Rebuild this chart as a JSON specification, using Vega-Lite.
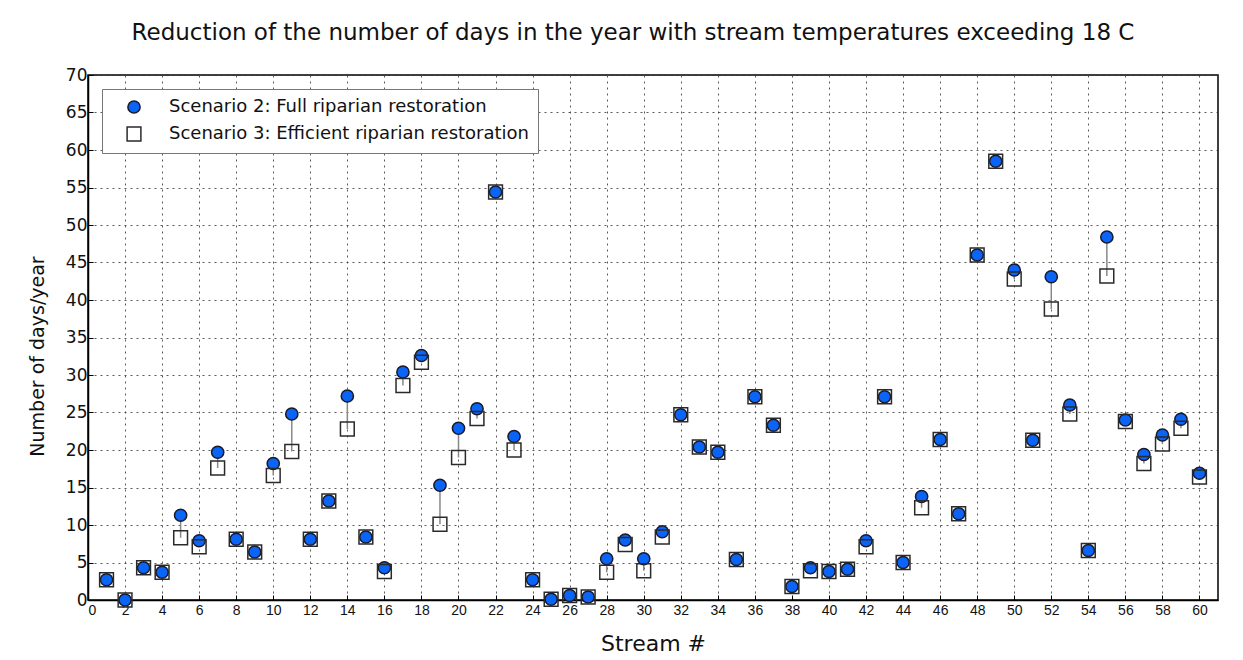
{
  "$schema": "https://vega.github.io/schema/vega-lite/v6.json",
  "width": 1130,
  "height": 525,
  "autosize": {"type": "none"},
  "padding": {"left": 88, "top": 75, "right": 25, "bottom": 60},
  "background": "white",
  "title": {
    "text": "Reduction of the number of days in the year with stream temperatures exceeding 18 C",
    "fontSize": 23,
    "font": "DejaVu Sans",
    "fontWeight": "normal",
    "color": "#111",
    "anchor": "middle",
    "dx": -20,
    "offset": 21
  },
  "config": {
    "font": "DejaVu Sans",
    "view": {"stroke": "black", "strokeWidth": 1.5},
    "axis": {
      "domainColor": "black",
      "domainWidth": 1.5,
      "tickColor": "black",
      "tickSize": -5,
      "gridColor": "#333",
      "gridDash": [2, 4],
      "gridOpacity": 0.8,
      "gridWidth": 1,
      "labelColor": "#111",
      "titleColor": "#111",
      "titleFontWeight": "normal",
      "labelOverlap": false
    }
  },
  "data": {
    "values": [
      {"stream": 1, "s2": 2.7, "s3": 2.7},
      {"stream": 2, "s2": 0.0, "s3": 0.0},
      {"stream": 3, "s2": 4.3, "s3": 4.3},
      {"stream": 4, "s2": 3.7, "s3": 3.7},
      {"stream": 5, "s2": 11.3, "s3": 8.3},
      {"stream": 6, "s2": 7.9, "s3": 7.1},
      {"stream": 7, "s2": 19.7, "s3": 17.6},
      {"stream": 8, "s2": 8.1, "s3": 8.1},
      {"stream": 9, "s2": 6.4, "s3": 6.4},
      {"stream": 10, "s2": 18.2, "s3": 16.6},
      {"stream": 11, "s2": 24.8, "s3": 19.8},
      {"stream": 12, "s2": 8.1, "s3": 8.1},
      {"stream": 13, "s2": 13.2, "s3": 13.2},
      {"stream": 14, "s2": 27.2, "s3": 22.8},
      {"stream": 15, "s2": 8.4, "s3": 8.4},
      {"stream": 16, "s2": 4.3, "s3": 3.8},
      {"stream": 17, "s2": 30.4, "s3": 28.6},
      {"stream": 18, "s2": 32.6, "s3": 31.7},
      {"stream": 19, "s2": 15.3, "s3": 10.1},
      {"stream": 20, "s2": 22.9, "s3": 19.0},
      {"stream": 21, "s2": 25.5, "s3": 24.2},
      {"stream": 22, "s2": 54.4, "s3": 54.4},
      {"stream": 23, "s2": 21.8, "s3": 20.0},
      {"stream": 24, "s2": 2.7, "s3": 2.7},
      {"stream": 25, "s2": 0.1, "s3": 0.1},
      {"stream": 26, "s2": 0.6, "s3": 0.6},
      {"stream": 27, "s2": 0.4, "s3": 0.4},
      {"stream": 28, "s2": 5.5, "s3": 3.7},
      {"stream": 29, "s2": 8.0, "s3": 7.4},
      {"stream": 30, "s2": 5.5, "s3": 3.9},
      {"stream": 31, "s2": 9.1, "s3": 8.4},
      {"stream": 32, "s2": 24.7, "s3": 24.7},
      {"stream": 33, "s2": 20.4, "s3": 20.4},
      {"stream": 34, "s2": 19.7, "s3": 19.7},
      {"stream": 35, "s2": 5.4, "s3": 5.4},
      {"stream": 36, "s2": 27.1, "s3": 27.1},
      {"stream": 37, "s2": 23.3, "s3": 23.3},
      {"stream": 38, "s2": 1.8, "s3": 1.8},
      {"stream": 39, "s2": 4.3, "s3": 3.9},
      {"stream": 40, "s2": 3.8, "s3": 3.8},
      {"stream": 41, "s2": 4.1, "s3": 4.1},
      {"stream": 42, "s2": 7.9, "s3": 7.1},
      {"stream": 43, "s2": 27.1, "s3": 27.1},
      {"stream": 44, "s2": 5.0, "s3": 5.0},
      {"stream": 45, "s2": 13.8, "s3": 12.3},
      {"stream": 46, "s2": 21.4, "s3": 21.4},
      {"stream": 47, "s2": 11.5, "s3": 11.5},
      {"stream": 48, "s2": 46.0, "s3": 46.0},
      {"stream": 49, "s2": 58.5, "s3": 58.5},
      {"stream": 50, "s2": 44.0, "s3": 42.8},
      {"stream": 51, "s2": 21.3, "s3": 21.3},
      {"stream": 52, "s2": 43.1, "s3": 38.8},
      {"stream": 53, "s2": 26.0, "s3": 24.8},
      {"stream": 54, "s2": 6.6, "s3": 6.6},
      {"stream": 55, "s2": 48.4, "s3": 43.2},
      {"stream": 56, "s2": 24.0, "s3": 23.8},
      {"stream": 57, "s2": 19.4, "s3": 18.2},
      {"stream": 58, "s2": 22.0, "s3": 20.8},
      {"stream": 59, "s2": 24.1, "s3": 22.9},
      {"stream": 60, "s2": 16.9, "s3": 16.4}
    ]
  },
  "layer": [
    {
      "mark": {"type": "rule", "color": "#888", "strokeWidth": 1.5},
      "encoding": {
        "x": {
          "field": "stream", "type": "quantitative",
          "scale": {"domain": [0, 61], "nice": false, "zero": false},
          "axis": {
            "title": "Stream #",
            "titleFontSize": 22,
            "titlePadding": 16,
            "labelFontSize": 14,
            "labelFont": "Liberation Sans",
            "labelPadding": 8,
            "labelOverlap": false,
            "tickCount": 31,
            "values": [0,2,4,6,8,10,12,14,16,18,20,22,24,26,28,30,32,34,36,38,40,42,44,46,48,50,52,54,56,58,60],
            "labelAngle": 0
          }
        },
        "y": {
          "field": "s2", "type": "quantitative",
          "scale": {"domain": [0, 70], "nice": false},
          "axis": {
            "title": "Number of days/year",
            "titleFontSize": 19,
            "titlePadding": 18,
            "titleY": 281,
            "labelFontSize": 17,
            "labelPadding": 6,
            "labelOverlap": false,
            "tickCount": 15,
            "values": [0,5,10,15,20,25,30,35,40,45,50,55,60,65,70]
          }
        },
        "y2": {"field": "s3"}
      }
    },
    {
      "transform": [{"fold": ["s2", "s3"], "as": ["scenario", "days"]}],
      "mark": {"type": "point", "filled": false, "opacity": 1, "strokeWidth": 1.5},
      "encoding": {
        "x": {"field": "stream", "type": "quantitative"},
        "y": {"field": "days", "type": "quantitative"},
        "shape": {
          "field": "scenario", "type": "nominal",
          "scale": {"domain": ["s2", "s3"], "range": ["circle", "square"]},
          "legend": {
            "title": null,
            "orient": "top-left",
            "offset": 14,
            "fillColor": "white",
            "strokeColor": "#777",
            "padding": 9,
            "labelFontSize": 18,
            "labelLimit": 0,
            "labelColor": "#111",
            "labelOffset": 26,
            "rowPadding": 7,
            "symbolOffset": 14,
            "labelExpr": "datum.label == 's2' ? 'Scenario 2: Full riparian restoration' : 'Scenario 3: Efficient riparian restoration'"
          }
        },
        "fill": {
          "field": "scenario", "type": "nominal",
          "scale": {"domain": ["s2", "s3"], "range": ["#0a64f5", "transparent"]}
        },
        "stroke": {
          "field": "scenario", "type": "nominal",
          "scale": {"domain": ["s2", "s3"], "range": ["#1a1a2a", "#2a2a2a"]}
        },
        "size": {
          "field": "scenario", "type": "nominal",
          "scale": {"domain": ["s2", "s3"], "range": [150, 190]}
        }
      }
    }
  ]
}
